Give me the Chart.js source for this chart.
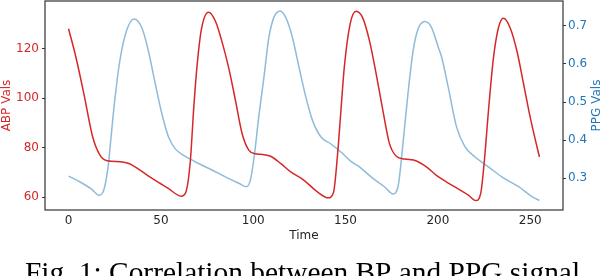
<!DOCTYPE html>
<html>
<head>
<meta charset="utf-8">
<script src="https://cdn.jsdelivr.net/npm/chart.js@4"></script>
<style>
  html, body { margin: 0; padding: 0; background: #fff; }
  #wrap { width: 602px; height: 276px; position: relative; }
</style>
</head>
<body>
<div id="wrap"><canvas id="bpChart"></canvas></div>
<script>
// ABP signal (left axis)
const abpTime = [0, 4, 8.5, 13, 17, 21, 28, 33, 38.5, 44, 49.5, 54, 61, 63.5, 66, 67.7, 69.5, 72, 75.8, 79.5,
  83, 86.7, 90.4, 94, 97.6, 101.3, 104, 109.4, 115, 120.3, 127.5, 134.8, 140.6, 143.5, 145.7, 147.5, 149.3, 152.5,
  155.7, 159.3, 163, 166.6, 170.2, 173.8, 177.5, 182, 188.4, 193.8, 199.2, 204.7, 209.2, 216.5, 220.6, 223.2, 225.2,
  227.4, 230.1, 232.8, 235.5, 239.1, 242.8, 246.4, 250, 253.7, 255];
const abpVals = [128, 116.5, 101, 84.5, 77, 74.7, 74.3, 73.5, 71, 68.2, 65.6, 63.5, 60.4, 62, 75, 95, 112.3, 128, 134.7, 131.1,
  123, 112.3, 99, 85.6, 79, 77.5, 77.3, 76.5, 73.5, 70.2, 66.8, 62.1, 59.7, 62, 77.5, 95, 112.3, 130,
  135.1, 132.4, 123, 109.7, 95, 81.6, 76.5, 75.4, 74.6, 72.2, 68.8, 66.1, 64.1, 60.8, 58.6, 61.5, 75,
  95, 116.3, 128.4, 132.2, 128.4, 119, 105.7, 92.2, 80.2, 76.2];

// PPG signal (right axis)
const ppgTime = [0, 6, 12.4, 16.5, 19, 21.4, 23.2, 25, 27.8, 31.4, 35.4, 39.6, 43.2, 46.8, 50.5, 54.1, 57.7, 63.1, 70.4,
  77.7, 84.9, 92.2, 96.2, 98.5, 100.5, 103, 105.8, 108.5, 111.2, 114.5, 117.6, 121.2, 124.8, 128.5, 132.1, 136.6,
  142.1, 147.5, 152.6, 157.5, 164.8, 171.1, 175.7, 178.4, 181.1, 183.8, 186.6, 189.3, 192.9, 196.5, 200.2, 202,
  205.6, 210.1, 214.6, 220.1, 227.4, 234.6, 243.7, 251, 255];
const ppgVals = [0.306, 0.291, 0.272, 0.256, 0.268, 0.33, 0.417, 0.504, 0.609, 0.687, 0.718, 0.696, 0.635, 0.552, 0.47, 0.409, 0.378, 0.358, 0.339,
  0.322, 0.304, 0.287, 0.278, 0.296, 0.356, 0.461, 0.565, 0.67, 0.722, 0.739, 0.722, 0.67, 0.591, 0.513, 0.452, 0.409,
  0.39, 0.369, 0.346, 0.33, 0.3, 0.278, 0.259, 0.278, 0.391, 0.522, 0.635, 0.692, 0.711, 0.696, 0.644, 0.618,
  0.539, 0.435, 0.383, 0.356, 0.33, 0.304, 0.278, 0.252, 0.242];

const timeTicks = [0, 50, 100, 150, 200, 250];
const abpTicks = [60, 80, 100, 120];
const ppgTicks = [0.3, 0.4, 0.5, 0.6, 0.7];
const caption = 'Fig. 1: Correlation between BP and PPG signal';

const RED = '#d62728', BLUE = '#1f77b4', LIGHT_BLUE = '#8fbbd9', SPINE = '#333333';
const tickFont = { family: 'DejaVu Sans', size: 12 };

// frame round the plot, right axis title (reads upward) and figure caption
const framePlugin = {
  id: 'frame',
  afterDraw(chart) {
    const { ctx, chartArea: a } = chart;
    ctx.save();
    ctx.strokeStyle = SPINE;
    ctx.lineWidth = 1.2;
    ctx.strokeRect(a.left, a.top, a.right - a.left, a.bottom - a.top);

    ctx.save();
    ctx.translate(596.5, (a.top + a.bottom) / 2);
    ctx.rotate(-Math.PI / 2);
    ctx.fillStyle = BLUE;
    ctx.font = '12px "DejaVu Sans"';
    ctx.textAlign = 'center';
    ctx.textBaseline = 'middle';
    ctx.fillText('PPG Vals', 0, 0);
    ctx.restore();

    ctx.fillStyle = '#000';
    ctx.font = '29.4px "Liberation Serif"';
    ctx.textAlign = 'center';
    ctx.textBaseline = 'alphabetic';
    ctx.fillText(caption, 302.5, 281.5);
    ctx.restore();
  }
};

const noPad = s => { s.paddingTop = 0; s.paddingBottom = 0; };

const ctx = document.getElementById('bpChart').getContext('2d');
new Chart(ctx, {
  type: 'line',
  data: {
    datasets: [
      { label: 'ABP', data: abpTime.map((t, i) => ({ x: t, y: abpVals[i] })), borderColor: RED, borderWidth: 1.5,
        pointRadius: 0, cubicInterpolationMode: 'monotone', yAxisID: 'y' },
      { label: 'PPG', data: ppgTime.map((t, i) => ({ x: t, y: ppgVals[i] })), borderColor: LIGHT_BLUE, borderWidth: 1.5,
        pointRadius: 0, cubicInterpolationMode: 'monotone', yAxisID: 'y1' }
    ]
  },
  options: {
    responsive: true, maintainAspectRatio: false, animation: false,
    layout: { padding: { top: 1, left: 0, right: 0, bottom: 33 } },
    plugins: { legend: { display: false }, tooltip: { enabled: false } },
    scales: {
      x: {
        type: 'linear', min: -12.75, max: 267.75,
        afterBuildTicks: s => { s.ticks = timeTicks.map(v => ({ value: v })); },
        afterFit: s => { s.height = 33; s.paddingLeft = 0; s.paddingRight = 0; },
        grid: { display: false, drawTicks: false }, border: { display: false },
        ticks: { color: '#262626', font: tickFont, padding: 4, maxRotation: 0 },
        title: { display: true, text: 'Time', color: '#262626', font: tickFont, padding: 0 }
      },
      y: {
        position: 'left', min: 54.8, max: 139.2,
        afterBuildTicks: s => { s.ticks = abpTicks.map(v => ({ value: v })); },
        afterFit: s => { s.width = 45; noPad(s); },
        grid: { display: true, drawOnChartArea: false, drawTicks: true, tickLength: 3, color: SPINE }, border: { display: false },
        ticks: { color: RED, font: tickFont, padding: 3 },
        title: { display: true, text: 'ABP Vals', color: RED, font: tickFont, padding: 0 }
      },
      y1: {
        position: 'right', min: 0.217, max: 0.765,
        afterBuildTicks: s => { s.ticks = ppgTicks.map(v => ({ value: v })); },
        afterFit: s => { s.width = 39; noPad(s); },
        grid: { display: true, drawOnChartArea: false, drawTicks: true, tickLength: 3, color: SPINE }, border: { display: false },
        ticks: { color: BLUE, font: tickFont, padding: 2, callback: v => v.toFixed(1) },
        title: { display: false }
      }
    }
  },
  plugins: [framePlugin]
});
</script>
</body>
</html>
